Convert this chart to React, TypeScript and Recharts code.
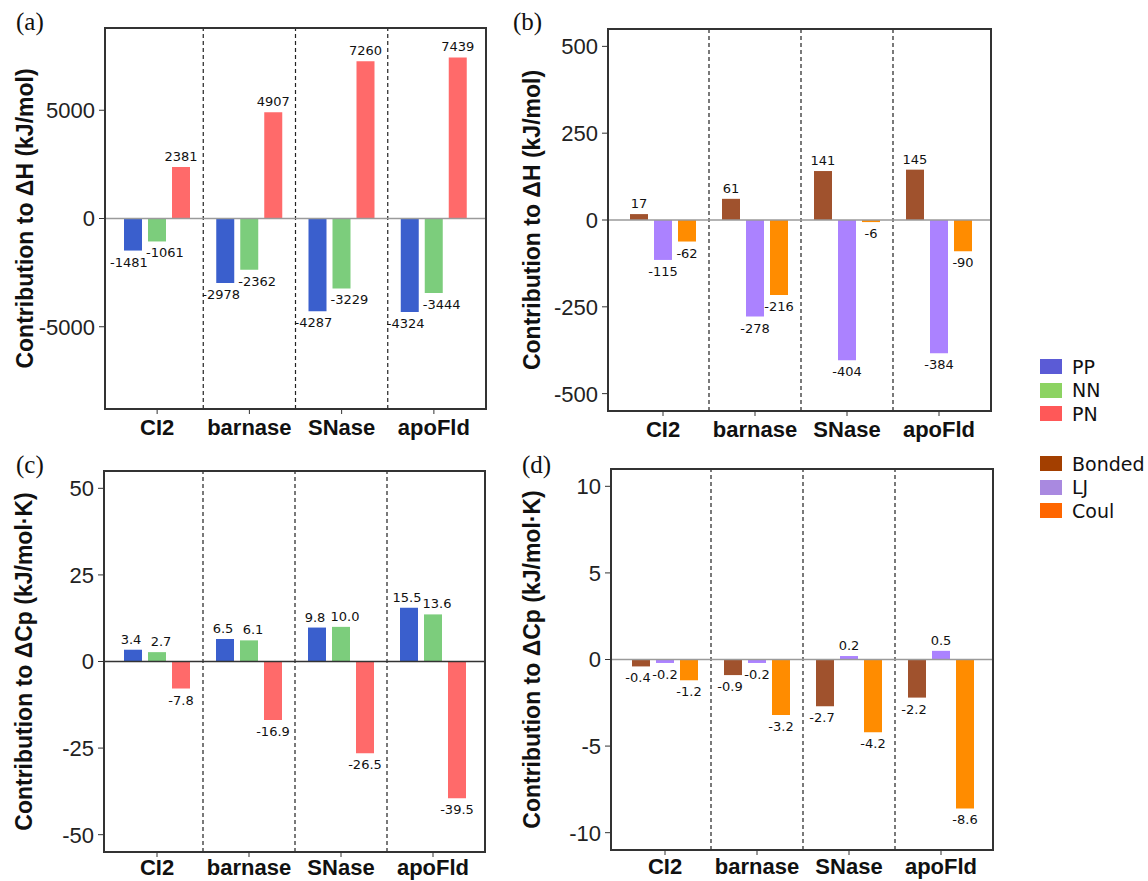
import { Bar, BarChart, LabelList, ReferenceLine, XAxis, YAxis } from "recharts";

const proteins = ["CI2", "barnase", "SNase", "apoFld"];

// (a) contribution to dH, kJ/mol
const ppH = [-1481, -2978, -4287, -4324];
const nnH = [-1061, -2362, -3229, -3444];
const pnH = [2381, 4907, 7260, 7439];

// (b) contribution to dH by term, kJ/mol
const bondedH = [17, 61, 141, 145];
const ljH = [-115, -278, -404, -384];
const coulH = [-62, -216, -6, -90];

// (c) contribution to dCp, kJ/mol/K
const ppCp = [3.4, 6.5, 9.8, 15.5];
const nnCp = [2.7, 6.1, 10.0, 13.6];
const pnCp = [-7.8, -16.9, -26.5, -39.5];

// (d) contribution to dCp by term
const bondedCp = [-0.4, -0.9, -2.7, -2.2];
const ljCp = [-0.2, -0.2, 0.2, 0.5];
const coulCp = [-1.2, -3.2, -4.2, -8.6];

const ticksH = [-5000, 0, 5000];
const ticksTermH = [-500, -250, 0, 250, 500];
const ticksCp = [-50, -25, 0, 25, 50];
const ticksTermCp = [-10, -5, 0, 5, 10];

const pairSeries = [
  { key: "PP", color: "#3a5fcd", legend: "#5b5bd6" },
  { key: "NN", color: "#7ccd7c", legend: "#8cd362" },
  { key: "PN", color: "#ff6a6a", legend: "#ff5858" },
];
const termSeries = [
  { key: "Bonded", color: "#a0522d", legend: "#a33f00" },
  { key: "LJ", color: "#ab82ff", legend: "#a989e0" },
  { key: "Coul", color: "#ff8c00", legend: "#ff6600" },
];

const rowsA = proteins.map((name, i) => ({ name, PP: ppH[i], NN: nnH[i], PN: pnH[i] }));
const rowsB = proteins.map((name, i) => ({ name, Bonded: bondedH[i], LJ: ljH[i], Coul: coulH[i] }));
const rowsC = proteins.map((name, i) => ({ name, PP: ppCp[i], NN: nnCp[i], PN: pnCp[i] }));
const rowsD = proteins.map((name, i) => ({ name, Bonded: bondedCp[i], LJ: ljCp[i], Coul: coulCp[i] }));

const sans = "'Liberation Sans', Arial, sans-serif";
const valueFont = "'DejaVu Sans', Verdana, sans-serif";

function BarValue(props: any) {
  const { value, digits, nudge } = props;
  const x = props.x ?? props.viewBox?.x;
  const y = props.y ?? props.viewBox?.y;
  const w = props.width ?? props.viewBox?.width ?? 0;
  const h = props.height ?? props.viewBox?.height ?? 0;
  const top = Math.min(y, y + h);
  const bottom = Math.max(y, y + h);
  const cx = x + w / 2 + nudge;
  const text = digits ? Number(value).toFixed(digits) : String(value);
  return (
    <text
      x={cx}
      y={value >= 0 ? top - 6 : bottom + 16}
      textAnchor="middle"
      fontSize={13}
      fontFamily={valueFont}
      fill="#111"
    >
      {text}
    </text>
  );
}

function YTick(props: any) {
  const { x, y, payload } = props;
  return (
    <text
      x={x}
      y={y}
      dy="0.36em"
      textAnchor="end"
      fill="#222"
      style={{ fontSize: "22px", fontFamily: sans, fontWeight: 400 }}
    >
      {payload.value}
    </text>
  );
}

type PanelProps = {
  left: number;
  top: number;
  height: number;
  plot: { x0: number; x1: number; y0: number; y1: number };
  rows: any[];
  series: { key: string; color: string }[];
  domain: [number, number];
  ticks: number[];
  yLabel: string;
  labelX: number;
  digits: number;
  zeroColor: string;
  pad: { left: number; right: number };
  xTickMargin: number;
  nudge?: Record<string, number>;
};

function Panel(p: PanelProps) {
  const width = 500;
  const { x0, x1, y0, y1 } = p.plot;
  return (
    <div style={{ position: "absolute", left: p.left, top: p.top, width, height: p.height }}>
      <BarChart
        width={width}
        height={p.height}
        data={p.rows}
        margin={{ top: y0, right: width - x1, bottom: 0, left: 0 }}
        barSize={18}
        barGap={6}
      >
        <XAxis
          dataKey="name"
          height={p.height - y1}
          padding={p.pad}
          axisLine={false}
          tickSize={5}
          tickMargin={p.xTickMargin}
          tickLine={{ stroke: "#333" }}
          tick={{ fill: "#111", fontSize: 22, fontWeight: "bold", fontFamily: sans }}
        />
        <YAxis
          width={x0}
          domain={p.domain}
          ticks={p.ticks}
          allowDataOverflow
          axisLine={false}
          tickSize={6}
          tickMargin={4}
          tickLine={{ stroke: "#333" }}
          tick={(tp: any) => <YTick {...tp} />}
          label={{
            value: p.yLabel,
            angle: -90,
            position: "insideLeft",
            offset: p.labelX,
            style: { textAnchor: "middle", fontSize: 23, fontWeight: "bold", fontFamily: sans, fill: "#111" },
          }}
        />
        {proteins.slice(1).map((name) => (
          <ReferenceLine
            key={name}
            x={name}
            position="start"
            stroke="#222"
            strokeDasharray="4 3"
            strokeWidth={1.2}
          />
        ))}
        <ReferenceLine y={0} stroke={p.zeroColor} strokeWidth={1.5} />
        {p.series.map((s) => (
          <Bar key={s.key} dataKey={s.key} fill={s.color} isAnimationActive={false}>
            <LabelList
              dataKey={s.key}
              content={(lp: any) => <BarValue {...lp} digits={p.digits} nudge={p.nudge?.[s.key] ?? 0} />}
            />
          </Bar>
        ))}
      </BarChart>
      <div
        style={{
          position: "absolute",
          left: x0 - 1,
          top: y0 - 1,
          width: x1 - x0 + 2,
          height: y1 - y0 + 2,
          border: "2px solid #333",
          boxSizing: "border-box",
          pointerEvents: "none",
        }}
      />
    </div>
  );
}

function Letter({ text, left, top }: { text: string; left: number; top: number }) {
  return (
    <div
      style={{
        position: "absolute",
        left,
        top,
        fontFamily: "'Liberation Serif', 'Times New Roman', serif",
        fontSize: 25,
        lineHeight: 1,
        color: "#111",
      }}
    >
      {text}
    </div>
  );
}

function LegendBlock({ items, top }: { items: { key: string; legend: string }[]; top: number }) {
  return (
    <div style={{ position: "absolute", left: 1040, top }}>
      {items.map((it) => (
        <div key={it.key} style={{ display: "flex", alignItems: "center", height: 23.5 }}>
          <div style={{ width: 22, height: 15, background: it.legend }} />
          <span style={{ marginLeft: 10, fontFamily: valueFont, fontSize: 19, color: "#111" }}>{it.key}</span>
        </div>
      ))}
    </div>
  );
}

export default function App() {
  return (
    <div style={{ position: "absolute", left: 0, top: 0, width: 1148, height: 881, background: "#fff", overflow: "hidden" }}>
      <Panel
        left={0}
        top={0}
        height={450}
        plot={{ x0: 105, x1: 486, y0: 28, y1: 409 }}
        rows={rowsA}
        series={pairSeries}
        domain={[-8800, 8800]}
        ticks={ticksH}
        yLabel="Contribution to ΔH (kJ/mol)"
        labelX={25}
        digits={0}
        zeroColor="#9a9a9a"
        pad={{ left: 6, right: 6 }}
        xTickMargin={5}
        nudge={{ PP: -4, NN: 8 }}
      />
      <Panel
        left={500}
        top={0}
        height={450}
        plot={{ x0: 108, x1: 491, y0: 29, y1: 411 }}
        rows={rowsB}
        series={termSeries}
        domain={[-550, 550]}
        ticks={ticksTermH}
        yLabel="Contribution to ΔH (kJ/mol)"
        labelX={32}
        digits={0}
        zeroColor="#9a9a9a"
        pad={{ left: 9, right: 6 }}
        xTickMargin={5}
      />
      <Panel
        left={0}
        top={440}
        height={441}
        plot={{ x0: 104, x1: 485, y0: 31, y1: 412 }}
        rows={rowsC}
        series={pairSeries}
        domain={[-55, 55]}
        ticks={ticksCp}
        yLabel="Contribution to ΔCp (kJ/mol·K)"
        labelX={24}
        digits={1}
        zeroColor="#333"
        pad={{ left: 7, right: 6 }}
        xTickMargin={2}
        nudge={{ PP: -2, NN: 4 }}
      />
      <Panel
        left={500}
        top={440}
        height={441}
        plot={{ x0: 111, x1: 493, y0: 29, y1: 410 }}
        rows={rowsD}
        series={termSeries}
        domain={[-11, 11]}
        ticks={ticksTermCp}
        yLabel="Contribution to ΔCp (kJ/mol·K)"
        labelX={32}
        digits={1}
        zeroColor="#9a9a9a"
        pad={{ left: 8, right: 6 }}
        xTickMargin={3}
        nudge={{ Bonded: -3 }}
      />
      <Letter text="(a)" left={16} top={9} />
      <Letter text="(b)" left={513} top={9} />
      <Letter text="(c)" left={16} top={452} />
      <Letter text="(d)" left={522} top={452} />
      <LegendBlock items={pairSeries} top={355} />
      <LegendBlock items={termSeries} top={452} />
    </div>
  );
}
